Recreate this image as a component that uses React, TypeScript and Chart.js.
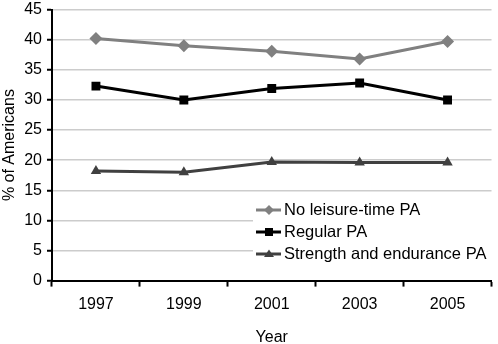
import React, { useEffect, useRef } from "react";
import { Chart, registerables } from "chart.js";

Chart.register(...registerables);

const years = ["1997", "1999", "2001", "2003", "2005"];
const noLeisure = [40.2, 39.0, 38.1, 36.8, 39.7];
const regular = [32.3, 30.0, 31.9, 32.8, 30.0];
const strength = [18.2, 18.0, 19.7, 19.6, 19.6];
const seriesNames = ["No leisure-time PA", "Regular PA", "Strength and endurance PA"];
const seriesColors = ["#808080", "#000000", "#404040"];
const seriesMarkers = ["rectRot", "rect", "triangle"];
const markerSizes = [6.5, 6.3, 6];

const FONT = "'Liberation Sans', Arial, Helvetica, sans-serif";
const SHIFT = 5;

const legendPlugin = {
  id: "insideLegend",
  afterDatasetsDraw(chart: any) {
    const ctx = chart.ctx;
    const ca = chart.chartArea;
    const left = ca.left + 201;
    const top = 192 + SHIFT;
    const rowH = 22;
    ctx.save();
    ctx.fillStyle = "#ffffff";
    ctx.fillRect(left, top, ca.right - left + 2, 72);
    ctx.font = "16.5px " + FONT;
    ctx.textBaseline = "middle";
    seriesNames.forEach((name, i) => {
      const y = top + 18 + i * rowH;
      ctx.strokeStyle = seriesColors[i];
      ctx.lineWidth = 3;
      ctx.beginPath();
      ctx.moveTo(left + 3, y);
      ctx.lineTo(left + 28, y);
      ctx.stroke();
      ctx.fillStyle = seriesColors[i];
      const x0 = left + 16;
      if (i === 0) {
        const r = 5;
        ctx.beginPath();
        ctx.moveTo(x0, y - r);
        ctx.lineTo(x0 + r, y);
        ctx.lineTo(x0, y + r);
        ctx.lineTo(x0 - r, y);
        ctx.closePath();
        ctx.fill();
      } else if (i === 1) {
        ctx.fillRect(x0 - 4, y - 4, 8, 8);
      } else {
        ctx.beginPath();
        ctx.moveTo(x0, y - 4.5);
        ctx.lineTo(x0 + 5, y + 3);
        ctx.lineTo(x0 - 5, y + 3);
        ctx.closePath();
        ctx.fill();
      }
      ctx.fillStyle = "#000000";
      ctx.fillText(name, left + 31, y + 0.5);
    });
    ctx.restore();
  },
};

export default function App() {
  const ref = useRef<HTMLCanvasElement | null>(null);
  useEffect(() => {
    const prevMargin = document.body.style.margin;
    document.body.style.margin = "0";
    const data = [noLeisure, regular, strength];
    const chart = new Chart(ref.current as HTMLCanvasElement, {
      type: "line",
      data: {
        labels: years,
        datasets: data.map((d, i) => ({
          label: seriesNames[i],
          data: d,
          borderColor: seriesColors[i],
          backgroundColor: seriesColors[i],
          borderWidth: 3,
          pointStyle: seriesMarkers[i] as any,
          pointRadius: markerSizes[i],
          pointBorderWidth: 0,
          tension: 0,
          fill: false,
        })),
      },
      options: {
        animation: false,
        responsive: false,
        maintainAspectRatio: false,
        layout: { padding: { top: -6, right: 1, left: 0, bottom: 0 } },
        plugins: {
          legend: { display: false },
          tooltip: { enabled: false },
        },
        scales: {
          x: {
            offset: true,
            grid: {
              display: true,
              offset: true,
              drawOnChartArea: false,
              drawTicks: true,
              tickLength: 6,
              tickColor: "#000",
              tickWidth: 2,
            },
            border: { display: true, color: "#000", width: 2 },
            ticks: { color: "#000", font: { family: FONT, size: 16 }, padding: 8 },
            title: {
              display: true,
              text: "Year",
              color: "#000",
              font: { family: FONT, size: 16 },
              padding: { top: 6, bottom: 0 },
            },
          },
          y: {
            min: 0,
            max: 45,
            ticks: {
              stepSize: 5,
              color: "#000",
              font: { family: FONT, size: 16 },
              padding: 5,
            },
            grid: {
              color: "#cccccc",
              lineWidth: 1.5,
              drawTicks: true,
              tickLength: 5,
              tickColor: "#000",
              tickWidth: 2,
            },
            border: { display: true, color: "#000", width: 2 },
            title: {
              display: true,
              text: "% of Americans",
              color: "#000",
              font: { family: FONT, size: 16 },
              padding: { top: 0, bottom: 0 },
            },
          },
        },
      },
      plugins: [legendPlugin],
    });
    return () => {
      chart.destroy();
      document.body.style.margin = prevMargin;
    };
  }, []);
  return (
    <div style={{ position: "absolute", left: 0, top: 0, width: 498, height: 344, overflow: "hidden" }}>
      <canvas
        ref={ref}
        width={498}
        height={352}
        style={{ position: "absolute", left: 0, top: -SHIFT, width: 498, height: 352 }}
      />
    </div>
  );
}
